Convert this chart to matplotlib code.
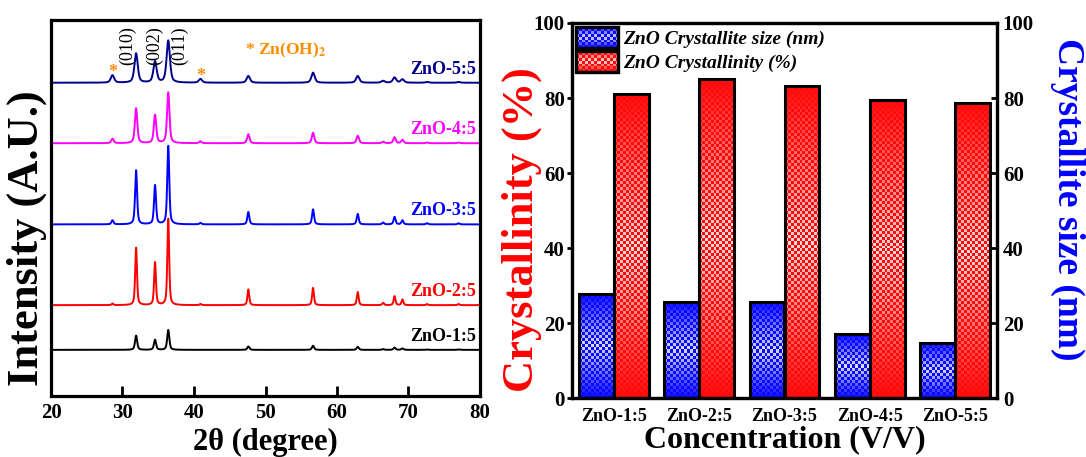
import numpy as np
import matplotlib
matplotlib.use('Agg')
import matplotlib.pyplot as plt
import matplotlib.colors as mcolors
from matplotlib.patches import Patch, Rectangle
from matplotlib.legend_handler import HandlerBase
from matplotlib.image import BboxImage
from matplotlib.transforms import Bbox, TransformedBbox

plt.rcParams['font.family'] = ['Liberation Serif', 'DejaVu Serif']
plt.rcParams['font.weight'] = 'bold'
plt.rcParams['mathtext.fontset'] = 'stix'

# ---------------- XRD data (left panel) ----------------
samples = ['ZnO-1:5', 'ZnO-2:5', 'ZnO-3:5', 'ZnO-4:5', 'ZnO-5:5']
sample_colors = ['#000000', '#ff0000', '#0000ff', '#ff00ff', '#00008b']
peak_pos = [28.6, 31.9, 34.55, 36.4, 40.9, 47.6, 56.65, 62.9, 66.45, 68.05, 69.15, 72.6, 77.0]
heights_15 = [0.0, 3.8, 2.7, 5.3, 0.0, 0.9, 1.1, 0.8, 0.2, 0.6, 0.4, 0.1, 0.1]
heights_25 = [0.4, 15.3, 11.4, 23.0, 0.3, 4.2, 4.6, 3.5, 0.6, 2.4, 1.5, 0.3, 0.3]
heights_35 = [1.1, 14.4, 10.4, 20.9, 0.4, 3.3, 4.0, 2.8, 0.5, 2.0, 1.1, 0.3, 0.3]
heights_45 = [1.2, 9.3, 7.5, 13.5, 0.5, 2.4, 2.8, 2.0, 0.4, 1.6, 0.9, 0.2, 0.2]
heights_55 = [2.0, 7.8, 5.6, 11.2, 1.0, 1.8, 2.7, 1.8, 0.5, 1.4, 0.9, 0.2, 0.2]
all_heights = [heights_15, heights_25, heights_35, heights_45, heights_55]
offsets = [12.2, 24.1, 45.6, 67.2, 83.3]
peak_fwhm = [0.35, 0.30, 0.33, 0.40, 0.55]
miller = ['(010)', '(002)', '(011)']
miller_x = [30.7, 34.5, 38.0]
star_x = [28.6, 40.9]
xrd_ticks = [20, 30, 40, 50, 60, 70, 80]

# ---------------- Bar data (right panel) ----------------
categories = ['ZnO-1:5', 'ZnO-2:5', 'ZnO-3:5', 'ZnO-4:5', 'ZnO-5:5']
crystallite_size = [27.8, 25.6, 25.6, 17.0, 14.8]
crystallinity = [81.0, 85.1, 83.2, 79.6, 78.7]
bar_ticks = [0, 20, 40, 60, 80, 100]

BLUE = '#0a0aff'
RED = '#ff0a0a'


def pseudo_voigt(x, p, w, eta=0.55):
    L = 1.0 / (1.0 + ((x - p) / (w / 2)) ** 2)
    G = np.exp(-4 * np.log(2) * (x - p) ** 2 / w ** 2)
    return eta * L + (1 - eta) * G


def checker(color, nrows, ncols, wmax=0.85):
    rgb = np.array(mcolors.to_rgb(color))
    f = (np.arange(nrows) + 0.5) / nrows
    t = wmax * (1 - np.abs(2 * f - 1))
    img = np.empty((nrows, ncols, 3))
    img[:] = rgb
    ii, jj = np.meshgrid(np.arange(nrows), np.arange(ncols), indexing='ij')
    light = (ii + jj) % 2 == 1
    lightc = rgb[None, :] * (1 - t[:, None]) + t[:, None]
    lc = np.broadcast_to(lightc[:, None, :], (nrows, ncols, 3))
    img[light] = lc[light]
    return img


class CheckerHandler(HandlerBase):
    def __init__(self, color):
        super().__init__()
        self.color = color

    def create_artists(self, legend, orig_handle, xdescent, ydescent,
                       width, height, fontsize, trans):
        bb = TransformedBbox(Bbox.from_bounds(-xdescent, -ydescent, width, height), trans)
        img = BboxImage(bb, interpolation='nearest')
        img.set_data(checker(self.color, 8, 14))
        rect = Rectangle((-xdescent, -ydescent), width, height, facecolor='none',
                         edgecolor='black', linewidth=2.4, transform=trans)
        return [img, rect]


W, H = 1086, 457
fig = plt.figure(figsize=(W / 100, H / 100), dpi=100)

# ================= Left panel =================
axL = fig.add_axes([51 / W, 1 - 395.7 / H, (480 - 51) / W, (395.7 - 20) / H])
x = np.linspace(20, 80, 4001)
for name, col, hts, off, fw in zip(samples, sample_colors, all_heights, offsets, peak_fwhm):
    y = np.full_like(x, off)
    for p, h in zip(peak_pos, hts):
        y = y + h * pseudo_voigt(x, p, fw)
    axL.plot(x, y, color=col, lw=1.4)
    axL.text(79.5, off + 1.3, name, color=col, fontsize=13, fontweight='bold',
             ha='right', va='bottom')

top_off = offsets[-1]
top_h = all_heights[-1]
for lab, mx in zip(miller, miller_x):
    axL.text(mx, 88.0, lab, rotation=90, ha='center', va='bottom', fontsize=13,
             fontweight='normal', color='black')
for sx in star_x:
    i = peak_pos.index(sx)
    axL.text(sx, top_off + top_h[i] + 0.6, '*', color='#ff8c00', fontsize=13,
             ha='center', va='center')
axL.text(47.1, 92.0, r'* Zn(OH)$_{\mathbf{2}}$', color='#ff8c00', fontsize=12.5,
         fontweight='bold', ha='left', va='center')

axL.set_xlim(20, 80)
axL.set_ylim(0, 100)
axL.set_xticks(xrd_ticks)
axL.set_yticks([])
axL.tick_params(axis='x', direction='in', length=7, width=2, labelsize=15, pad=5)
for s in axL.spines.values():
    s.set_linewidth(2.3)
axL.set_xlabel('2θ (degree)', fontsize=22, fontweight='bold')
axL.xaxis.set_label_coords(0.5, -0.085)
axL.xaxis.label.set_va('top')
axL.set_ylabel('Intensity (A.U.)', fontsize=32, fontweight='bold')
axL.yaxis.set_label_coords(-0.056, 0.42)
axL.yaxis.label.set_va('center')

# ================= Right panel =================
ax = fig.add_axes([571.7 / W, 1 - 398.3 / H, (997.3 - 571.7) / W, (398.3 - 23) / H])
ax2 = ax.twinx()
xc = np.arange(len(categories))
bw = 0.41
px_per_unit = 375 / 100.0

bars_b = ax2.bar(xc - bw / 2, crystallite_size, bw, facecolor='none', edgecolor='black',
                 linewidth=2.2, zorder=3)
bars_r = ax.bar(xc + bw / 2, crystallinity, bw, facecolor='none', edgecolor='black',
                linewidth=2.2, zorder=3)
for bars, col, axx in ((bars_b, BLUE, ax2), (bars_r, RED, ax)):
    for r in bars:
        x0, w, h = r.get_x(), r.get_width(), r.get_height()
        nrows = max(2, int(round(h * px_per_unit / 3.0)))
        axx.imshow(checker(col, nrows, 12), extent=(x0, x0 + w, 0, h), aspect='auto',
                   interpolation='nearest', zorder=2)

for a in (ax, ax2):
    a.set_xlim(-0.5, len(categories) - 0.5)
    a.set_ylim(0, 100)
    a.set_yticks(bar_ticks)
    for s in a.spines.values():
        s.set_linewidth(2.3)
ax.set_xticks(xc)
ax.set_xticklabels(categories)
ax.tick_params(axis='x', length=0, labelsize=13, pad=7)
ax.tick_params(axis='y', direction='out', length=3.5, width=2, labelsize=15, pad=1.5)
ax2.tick_params(axis='y', direction='in', length=4, width=2, labelsize=15, pad=4)

ax.set_xlabel('Concentration (V/V)', fontsize=23, fontweight='bold')
ax.xaxis.set_label_coords(0.5, -0.073)
ax.xaxis.label.set_va('top')
ax.set_ylabel('Crystallinity (%)', fontsize=32, fontweight='bold', color='#ff0000')
ax.yaxis.set_label_coords(-0.117, 0.45)
ax.yaxis.label.set_va('center')
ax2.set_ylabel('Crystallite size (nm)', fontsize=27, fontweight='bold', color='#0000ff',
               rotation=270)
ax2.yaxis.set_label_coords(1.166, 0.53)
ax2.yaxis.label.set_va('center')

h_b = Patch(facecolor=BLUE)
h_r = Patch(facecolor=RED)
ax2.legend([h_b, h_r], ['ZnO Crystallite size (nm)', 'ZnO Crystallinity (%)'],
           handler_map={h_b: CheckerHandler(BLUE), h_r: CheckerHandler(RED)},
           loc='upper left', bbox_to_anchor=(0.0, 1.0), borderaxespad=0.0, borderpad=0.2,
           frameon=False, handlelength=2.2, handleheight=1.3, labelspacing=0.15,
           handletextpad=0.25,
           prop={'family': 'Liberation Serif', 'weight': 'bold', 'style': 'italic', 'size': 14})

fig.savefig('out.png', dpi=100)
